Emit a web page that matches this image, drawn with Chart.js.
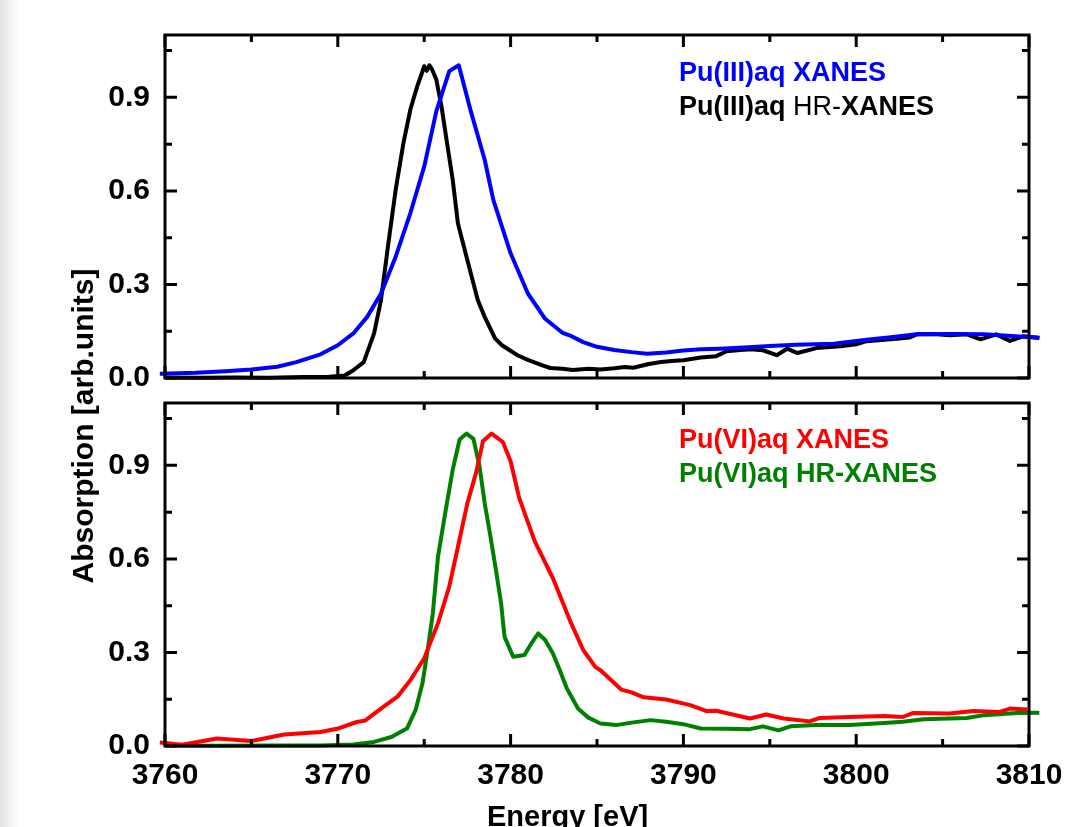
<!DOCTYPE html>
<html>
<head>
<meta charset="utf-8">
<title>Pu M5-edge XANES</title>
<script src="https://cdn.jsdelivr.net/npm/chart.js@4.4.0/dist/chart.umd.min.js"></script>
<style>
    html, body { margin: 0; padding: 0; background: #fff; }
    body {
        width: 1088px; height: 827px; position: relative; overflow: hidden;
        font-family: "Liberation Sans", Arial, Helvetica, sans-serif;
    }
    .edge {
        position: absolute; left: 0; top: 0; width: 20px; height: 827px;
        background: linear-gradient(to right, #e3e3e3, #f4f4f4 60%, #fff);
    }
    canvas { position: absolute; left: 0; }
    #topChart { top: 0; }
    #bottomChart { top: 392px; }
    .legend {
        position: absolute; left: 679px; font-size: 27px; line-height: 34px;
        font-weight: bold; white-space: nowrap; color: #000;
    }
    .thin { font-weight: normal; }
    .ytitle {
        position: absolute; left: -117px; top: 411px; width: 400px; text-align: center;
        font-size: 30px; line-height: 30px; font-weight: bold; white-space: nowrap;
        transform: rotate(-90deg);
    }
    .xtitle {
        position: absolute; left: 487px; top: 802px; font-size: 29px; line-height: 29px;
        font-weight: bold; white-space: nowrap;
    }
</style>
</head>
<body>
<div class="edge"></div>
<canvas id="topChart" width="1088" height="392"></canvas>
<canvas id="bottomChart" width="1088" height="435"></canvas>

<div class="legend" style="top:55px">
    <span style="color:#0000ff">Pu(III)aq XANES</span><br>
    <span>Pu(III)aq <span class="thin">HR-</span>XANES</span>
</div>
<div class="legend" style="top:422px">
    <span style="color:#ff0000">Pu(VI)aq XANES</span><br>
    <span style="color:#008000">Pu(VI)aq HR-XANES</span>
</div>
<div class="ytitle">Absorption [arb.units]</div>
<div class="xtitle">Energy [eV]</div>

<script>
// axis ticks
const xMajorTicks = [3760, 3770, 3780, 3790, 3800, 3810];
const xMinorTicks = [3765, 3775, 3785, 3795, 3805];
const yMajorTicks = [0.0, 0.3, 0.6, 0.9];
const yMinorTicks = [0.15, 0.45, 0.75, 1.05];

// Pu(III)aq, conventional XANES
const pu3XanesEnergy = [3759.7, 3761.8, 3763.5, 3765.0, 3766.5, 3767.6, 3769.0, 3770.0, 3770.9, 3771.7,
    3772.5, 3773.35, 3774.2, 3775.0, 3775.7, 3776.45, 3777.0, 3777.7, 3778.5, 3779.0,
    3780.0, 3781.0, 3782.0, 3783.0, 3783.5, 3784.2, 3785.0, 3786.0, 3787.0, 3787.9,
    3789.0, 3790.0, 3791.0, 3792.1, 3793.5, 3795.0, 3796.5, 3798.7, 3800.6, 3802.0,
    3803.5, 3805.5, 3807.4, 3809.0, 3810.6];
const pu3XanesAbs = [0.014, 0.017, 0.022, 0.027, 0.036, 0.051, 0.076, 0.105, 0.143, 0.196,
    0.271, 0.389, 0.529, 0.678, 0.855, 0.984, 1.003, 0.855, 0.70, 0.571,
    0.40, 0.271, 0.19, 0.145, 0.135, 0.115, 0.10, 0.09, 0.083, 0.078,
    0.082, 0.088, 0.092, 0.094, 0.098, 0.103, 0.107, 0.11, 0.123, 0.131,
    0.14, 0.141, 0.14, 0.135, 0.129];

// Pu(III)aq, HR-XANES
const pu3HrEnergy = [3760.0, 3762.0, 3764.0, 3766.0, 3768.0, 3769.5, 3770.4, 3770.9, 3771.5, 3772.1,
    3772.5, 3772.9, 3773.35, 3773.8, 3774.2, 3774.6, 3774.85, 3775.0, 3775.15, 3775.3,
    3775.45, 3775.7, 3776.0, 3776.35, 3776.65, 3776.95, 3777.5, 3778.1, 3778.5, 3779.1,
    3779.5, 3780.4, 3781.0, 3781.8, 3782.3, 3783.0, 3783.6, 3784.5, 3785.2, 3786.0,
    3786.6, 3787.1, 3788.0, 3788.7, 3789.5, 3790.0, 3791.0, 3791.9, 3792.5, 3793.3,
    3793.9, 3794.6, 3795.4, 3796.0, 3796.6, 3797.7, 3799.1, 3800.0, 3800.6, 3802.0,
    3803.1, 3803.5, 3804.5, 3805.4, 3806.4, 3807.2, 3808.1, 3808.9, 3809.7, 3810.6];
const pu3HrAbs = [0.002, 0.001, 0.002, 0.001, 0.003, 0.004, 0.008, 0.025, 0.051, 0.143,
    0.25, 0.421, 0.604, 0.754, 0.861, 0.936, 0.975, 1.0, 0.985, 1.003,
    0.99, 0.957, 0.871, 0.743, 0.636, 0.496, 0.378, 0.25, 0.196, 0.127,
    0.105, 0.073, 0.058, 0.041, 0.032, 0.030, 0.026, 0.030, 0.027, 0.031,
    0.035, 0.033, 0.045, 0.051, 0.055, 0.057, 0.066, 0.07, 0.086, 0.090,
    0.092, 0.089, 0.073, 0.094, 0.080, 0.096, 0.102, 0.108, 0.118, 0.124,
    0.13, 0.14, 0.141, 0.137, 0.14, 0.124, 0.14, 0.119, 0.134, 0.128];

// Pu(VI)aq, conventional XANES
const pu6XanesEnergy = [3759.7, 3761.0, 3763.0, 3765.0, 3766.9, 3769.0, 3770.0, 3771.1, 3771.6, 3772.5,
    3773.45, 3774.2, 3775.0, 3775.8, 3776.45, 3777.0, 3777.5, 3778.0, 3778.4, 3778.9,
    3779.55, 3780.0, 3780.5, 3781.4, 3782.45, 3783.5, 3784.2, 3784.9, 3785.2, 3786.4,
    3787.0, 3787.7, 3789.0, 3790.4, 3791.35, 3791.9, 3793.85, 3794.8, 3795.8, 3797.3,
    3797.9, 3799.6, 3801.6, 3802.7, 3803.3, 3805.4, 3806.8, 3808.3, 3808.9, 3809.9];
const pu6XanesAbs = [0.011, 0.004, 0.024, 0.016, 0.037, 0.045, 0.056, 0.077, 0.082, 0.12,
    0.158, 0.211, 0.281, 0.394, 0.511, 0.651, 0.779, 0.876, 0.977, 1.002,
    0.975, 0.913, 0.795, 0.656, 0.538, 0.394, 0.308, 0.254, 0.243, 0.181,
    0.172, 0.156, 0.149, 0.131, 0.112, 0.113, 0.088, 0.101, 0.088, 0.079,
    0.09, 0.093, 0.096, 0.093, 0.106, 0.104, 0.112, 0.109, 0.12, 0.117];

// Pu(VI)aq, HR-XANES
const pu6HrEnergy = [3760.4, 3763.0, 3766.0, 3769.0, 3770.9, 3772.1, 3773.1, 3774.0, 3774.5, 3774.9,
    3775.2, 3775.5, 3775.8, 3776.25, 3776.65, 3777.05, 3777.45, 3777.85, 3778.2, 3778.5,
    3778.8, 3779.15, 3779.45, 3779.65, 3780.15, 3780.8, 3781.2, 3781.6, 3782.0, 3782.45,
    3782.85, 3783.25, 3783.9, 3784.5, 3785.2, 3786.1, 3787.0, 3788.1, 3789.0, 3790.0,
    3791.0, 3792.5, 3793.85, 3794.6, 3795.5, 3796.2, 3797.7, 3799.6, 3801.6, 3802.7,
    3803.9, 3806.4, 3807.4, 3809.3, 3810.6];
const pu6HrAbs = [0.002, 0.001, 0.002, 0.002, 0.005, 0.013, 0.029, 0.056, 0.115, 0.201,
    0.308, 0.426, 0.608, 0.758, 0.886, 0.983, 1.002, 0.985, 0.897, 0.779,
    0.683, 0.565, 0.458, 0.35, 0.286, 0.292, 0.329, 0.361, 0.34, 0.297,
    0.243, 0.185, 0.12, 0.091, 0.072, 0.067, 0.075, 0.083, 0.078, 0.07,
    0.056, 0.055, 0.054, 0.063, 0.05, 0.063, 0.067, 0.067, 0.074, 0.078,
    0.086, 0.09, 0.099, 0.106, 0.107];

const tickFont = { family: '"Liberation Sans", Arial, sans-serif', weight: 'bold' };

function toPoints(xs, ys) {
    return xs.map((x, i) => ({ x: x, y: ys[i] }));
}

function spectrum(xs, ys, color) {
    return {
        data: toPoints(xs, ys),
        borderColor: color,
        borderWidth: 4,
        pointRadius: 0,
        tension: 0,
        borderJoinStyle: 'round',
        clip: false
    };
}

// closed box with inward ticks on all four sides
const frameTicks = {
    id: 'frameTicks',
    afterDraw(chart) {
        const { ctx, chartArea, scales } = chart;
        const { left, right, top, bottom } = chartArea;
        ctx.save();
        ctx.strokeStyle = '#000';
        ctx.lineWidth = 3;
        ctx.beginPath();
        const xMark = (v, len) => {
            const px = scales.x.getPixelForValue(v);
            ctx.moveTo(px, bottom); ctx.lineTo(px, bottom - len);
            ctx.moveTo(px, top); ctx.lineTo(px, top + len);
        };
        const yMark = (v, len) => {
            const py = scales.y.getPixelForValue(v);
            ctx.moveTo(left, py); ctx.lineTo(left + len, py);
            ctx.moveTo(right, py); ctx.lineTo(right - len, py);
        };
        xMajorTicks.forEach(v => xMark(v, 12));
        xMinorTicks.forEach(v => xMark(v, 7));
        yMajorTicks.forEach(v => yMark(v, 12));
        yMinorTicks.forEach(v => yMark(v, 7));
        ctx.stroke();
        ctx.strokeRect(left, top, right - left, bottom - top);
        ctx.restore();
    }
};

function makePanel(canvasId, datasets, padTop, xAxisHeight, showXLabels) {
    const ctx = document.getElementById(canvasId).getContext('2d');
    return new Chart(ctx, {
        type: 'line',
        data: { datasets: datasets },
        options: {
            responsive: false,
            animation: false,
            layout: { padding: { top: padTop, right: 59, left: 0, bottom: 0 } },
            plugins: {
                legend: { display: false },
                tooltip: { enabled: false }
            },
            scales: {
                x: {
                    type: 'linear',
                    min: 3760,
                    max: 3810,
                    afterBuildTicks: s => { s.ticks = xMajorTicks.map(v => ({ value: v })); },
                    afterFit: s => {
                        s.height = xAxisHeight;
                        s.paddingLeft = 0;
                        s.paddingRight = 0;
                    },
                    grid: { display: false, drawTicks: false },
                    border: { display: false },
                    ticks: {
                        display: showXLabels,
                        padding: 12,
                        maxRotation: 0,
                        autoSkip: false,
                        color: '#000',
                        font: Object.assign({ size: 30 }, tickFont),
                        callback: v => String(v)
                    }
                },
                y: {
                    type: 'linear',
                    min: 0,
                    max: 1.1,
                    afterBuildTicks: s => { s.ticks = yMajorTicks.map(v => ({ value: v })); },
                    afterFit: s => {
                        // labels may hang over the plot box, keep the box where it is
                        s.width = 165;
                        s.paddingTop = 0;
                        s.paddingBottom = 0;
                    },
                    grid: { display: false, drawTicks: false },
                    border: { display: false },
                    ticks: {
                        padding: 15,
                        color: '#000',
                        font: Object.assign({ size: 30 }, tickFont),
                        callback: v => v.toFixed(1)
                    }
                }
            }
        },
        plugins: [frameTicks]
    });
}

makePanel('topChart', [
    spectrum(pu3XanesEnergy, pu3XanesAbs, '#0000ff'),
    spectrum(pu3HrEnergy, pu3HrAbs, '#000000')
], 35, 14, false);

makePanel('bottomChart', [
    spectrum(pu6XanesEnergy, pu6XanesAbs, '#ff0000'),
    spectrum(pu6HrEnergy, pu6HrAbs, '#008000')
], 11, 81, true);
</script>
</body>
</html>
